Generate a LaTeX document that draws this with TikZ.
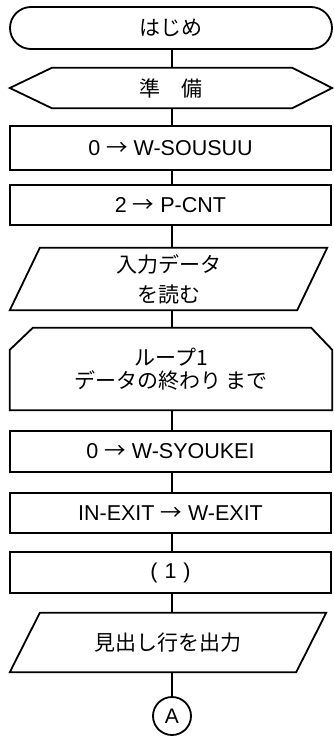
\documentclass[tikz,border=0pt]{standalone}
\usepackage{fontspec}
\setmainfont{Liberation Sans}
\newfontfamily\jp{Noto Sans CJK JP}
\usetikzlibrary{shapes.misc}
\begin{document}
\begin{tikzpicture}[x=1pt,y=-1pt,
  outline/.style={draw=black,line width=1.8pt,line join=miter},
  lat/.style={font=\fontsize{21.5}{24}\selectfont},
  jpn/.style={font=\jp\fontsize{21}{30}\selectfont},
  jpnloop/.style={font=\jp\fontsize{21}{23}\selectfont},
  procbox/.style={outline,rectangle,minimum width=321pt,inner sep=0pt},
  area/.style={inner sep=0pt},
  flowline/.style={line width=1.8pt}]
\useasboundingbox (0,0) rectangle (333,737);
\coordinate (axis) at (172,0);

% terminal
\node[outline,rounded rectangle,minimum width=322pt,minimum height=42pt,inner sep=0pt,jpn] (start) at (171,28) {はじめ};

% preparation
\node[area,minimum width=322pt,minimum height=40pt,jpn] (prep) at (171,88) {準　備};
\draw[outline] (prep.west) -- ([xshift=42pt]prep.north west) -- ([xshift=-40pt]prep.north east) -- (prep.east) -- ([xshift=-40pt]prep.south east) -- ([xshift=42pt]prep.south west) -- cycle;

% processes
\node[procbox,minimum height=44pt,lat] (b1) at (170.5,148) {0 {\jp →} W-SOUSUU};
\node[procbox,minimum height=40pt,lat] (b2) at (170.5,205) {2 {\jp →} P-CNT};

% input
\node[area,minimum width=317pt,minimum height=62pt,align=center,jpn] (read) at (168.5,279) {入力データ\\を読む};
\draw[outline] ([xshift=30pt]read.north west) -- (read.north east) -- ([xshift=-30pt]read.south east) -- (read.south west) -- cycle;

% loop limit
\node[area,minimum width=322pt,minimum height=82pt,align=center,jpnloop] (loop) at (171,369) {ループ1\\データの終わり まで};
\draw[outline] (loop.south west) -- ([yshift=-22pt]loop.north west) -- ([xshift=23pt]loop.north west) -- ([xshift=-21pt]loop.north east) -- ([yshift=-22pt]loop.north east) -- (loop.south east) -- cycle;

\node[procbox,minimum height=41pt,lat] (b3) at (170.5,451.5) {0 {\jp →} W-SYOUKEI};
\node[procbox,minimum height=40pt,lat] (b4) at (170.5,513) {IN-EXIT {\jp →} W-EXIT};
\node[procbox,minimum height=41pt,lat] (b5) at (170.5,572.5) {(\hspace{7pt}1\hspace{7pt})};

% output
\node[area,minimum width=316pt,minimum height=59pt,jpn] (out) at (168,642.5) {見出し行を出力};
\draw[outline] ([xshift=30pt]out.north west) -- (out.north east) -- ([xshift=-30pt]out.south east) -- (out.south west) -- cycle;

% connector
\node[outline,circle,minimum size=38pt,inner sep=0pt,font=\fontsize{21}{24}\selectfont] (conA) at (172,716) {A};

% flow lines
\draw[flowline] (axis |- start.south) -- (axis |- prep.north);
\draw[flowline] (axis |- prep.south) -- (axis |- b1.north);
\draw[flowline] (axis |- b1.south) -- (axis |- b2.north);
\draw[flowline] (axis |- b2.south) -- (axis |- read.north);
\draw[flowline] (axis |- read.south) -- (axis |- loop.north);
\draw[flowline] (axis |- loop.south) -- (axis |- b3.north);
\draw[flowline] (axis |- b3.south) -- (axis |- b4.north);
\draw[flowline] (axis |- b4.south) -- (axis |- b5.north);
\draw[flowline] (axis |- b5.south) -- (axis |- out.north);
\draw[flowline] (axis |- out.south) -- (conA.north);
\end{tikzpicture}
\end{document}
